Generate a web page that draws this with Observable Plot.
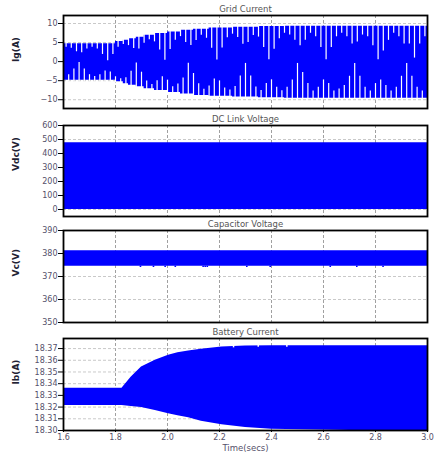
<!DOCTYPE html>
<html><head><meta charset="utf-8">
<script src="https://cdn.jsdelivr.net/npm/d3@7"></script>
<script src="https://cdn.jsdelivr.net/npm/@observablehq/plot@0.6"></script>
<style>
body{margin:0;background:#fff;}
#chart svg{display:block;}
</style></head><body><div id="chart"></div>
<script>
const BLUE = "#0000ff";
const xTicks = [1.6, 1.8, 2.0, 2.2, 2.4, 2.6, 2.8, 3.0];

// Panel titles and axis labels
const titles = ["Grid Current", "DC Link Voltage", "Capacitor Voltage", "Battery Current"];
const yLabels = ["Ig(A)", "Vdc(V)", "Vc(V)", "Ib(A)"];
const xLabel = "Time(secs)";

// Grid current envelope
const gridTime  = [1.60, 1.79, 1.80, 1.83, 1.85, 1.88, 1.91, 1.95, 2.00, 2.05, 2.10, 2.16, 2.25, 2.35, 2.45, 3.00];
const gridUpper = [4.7, 4.7, 5.3, 5.6, 6.0, 6.4, 6.9, 7.4, 7.8, 8.2, 8.5, 8.8, 9.0, 9.2, 9.3, 9.3];
const gridLower = [-4.9, -4.9, -5.3, -5.8, -6.2, -6.6, -7.1, -7.6, -8.1, -8.5, -8.9, -9.1, -9.3, -9.5, -9.6, -9.6];
const gridYTicks = [-10, -5, 0, 5, 10];
// white gaps (sampling pattern): times and reach toward centre (fraction of envelope)
const gapUpT = [1.61,1.63,1.65,1.67,1.69,1.71,1.73,1.75,1.77,1.79,
  1.81,1.83,1.85,1.87,1.89,1.91,1.93,1.95,1.97,1.99,
  2.01,2.03,2.05,2.07,2.09,2.11,2.13,2.15,2.17,2.19,
  2.21,2.23,2.25,2.27,2.29,2.31,2.33,2.35,2.37,2.39,
  2.41,2.43,2.45,2.47,2.49,2.51,2.53,2.55,2.57,2.59,
  2.61,2.63,2.65,2.67,2.69,2.71,2.73,2.75,2.77,2.79,
  2.81,2.83,2.85,2.87,2.89,2.91,2.93,2.95,2.97,2.99];
const gapUpReach = [0.2,0.25,0.45,0.5,0.3,0.2,0.3,0.6,0.95,0.6,
  0.3,0.2,0.3,0.45,0.5,0.3,0.2,0.3,0.6,0.95,
  0.6,0.3,0.2,0.4,0.5,0.35,0.2,0.3,0.6,0.95,
  0.6,0.3,0.2,0.3,0.5,0.45,0.25,0.3,0.6,0.95,
  0.65,0.35,0.2,0.25,0.4,0.55,0.4,0.2,0.3,0.6,
  0.95,0.6,0.3,0.2,0.3,0.5,0.45,0.25,0.3,0.55,
  0.95,0.7,0.4,0.2,0.3,0.5,0.5,0.9,0.5,0.3];
const gapLowT = [1.62,1.64,1.66,1.68,1.70,1.72,1.74,1.76,1.78,1.80,
  1.82,1.84,1.86,1.88,1.90,1.92,1.94,1.96,1.98,2.00,
  2.02,2.04,2.06,2.08,2.10,2.12,2.14,2.16,2.18,2.20,
  2.22,2.24,2.26,2.28,2.30,2.32,2.34,2.36,2.38,2.40,
  2.42,2.44,2.46,2.48,2.50,2.52,2.54,2.56,2.58,2.60,
  2.62,2.64,2.66,2.68,2.70,2.72,2.74,2.76,2.78,2.80,
  2.82,2.84,2.86,2.88,2.90,2.92,2.94,2.96,2.98];
const gapLowReach = [0.3,0.6,0.95,0.6,0.3,0.2,0.3,0.5,0.45,0.25,
  0.2,0.3,0.6,0.95,0.6,0.3,0.2,0.35,0.5,0.4,
  0.2,0.3,0.5,0.95,0.65,0.35,0.2,0.3,0.5,0.45,
  0.25,0.2,0.3,0.6,0.95,0.6,0.3,0.2,0.4,0.5,
  0.3,0.2,0.3,0.5,0.95,0.7,0.4,0.2,0.3,0.5,
  0.4,0.2,0.25,0.35,0.6,0.95,0.6,0.3,0.2,0.4,
  0.5,0.35,0.2,0.3,0.6,0.95,0.6,0.3,0.2];

// DC link voltage
const dcTime = [1.6, 3.0];
const dcUpper = [476, 476];
const dcLower = [0, 0];
const dcYTicks = [0, 100, 200, 300, 400, 500, 600];

// Capacitor voltage
const capTime = [1.6, 3.0];
const capUpper = [381.2, 381.2];
const capLower = [374.5, 374.5];
const capNotchT = [1.896, 1.946, 1.991, 2.03, 2.137, 2.145, 2.153, 2.305, 2.395, 2.626, 2.728, 2.829];
const capNotchLow = [373.9, 373.9, 373.9, 373.9, 373.9, 373.9, 373.9, 373.9, 373.9, 373.9, 373.9, 373.9];
const capYTicks = [350, 360, 370, 380, 390];

// Battery current
const batTime  = [1.60, 1.825, 1.86, 1.90, 1.953, 2.004, 2.04, 2.081, 2.13, 2.209, 2.30, 2.40, 3.00];
const batUpper = [18.3362, 18.3362, 18.3455, 18.3542, 18.3600, 18.3643, 18.3665, 18.3680, 18.3695, 18.3714, 18.3722, 18.3724, 18.3724];
const batLower = [18.3214, 18.3214, 18.3205, 18.3196, 18.3170, 18.3143, 18.3125, 18.3110, 18.3080, 18.3050, 18.3025, 18.3010, 18.2990];
const batYTicks = [18.30, 18.31, 18.32, 18.33, 18.34, 18.35, 18.36, 18.37];
const batDentT = [2.254, 2.349, 2.459];

const font = "DejaVu Sans, Verdana, sans-serif";
const TXT = "#55506a";

function panel(o) {
  const marks = [
    Plot.gridX(xTicks, {stroke: "#888", strokeOpacity: 1, strokeDasharray: "3,2", strokeWidth: 0.8}),
    Plot.gridY(o.yTicks, {stroke: "#bbb", strokeOpacity: 1, strokeDasharray: "3,2", strokeWidth: 0.8}),
    ...o.marks,
    Plot.frame({stroke: "black", strokeWidth: 1.8}),
    Plot.axisY(o.yTicks, {anchor: "left", tickSize: 5, tickPadding: 1, tickFormat: o.yFormat, fill: TXT, stroke: "black", fontSize: 8, label: null}),
    Plot.text([o.title], {frameAnchor: "top", lineAnchor: "middle", dy: -6, fontSize: 8.5, fill: "#555", fontFamily: font}),
    Plot.text([o.ylabel], {frameAnchor: "left", dx: -47, rotate: -90, fontSize: 9, fontWeight: "bold", fill: "#223", fontFamily: font})
  ];
  if (o.showX) {
    marks.push(Plot.axisX(xTicks, {anchor: "bottom", tickSize: 2, tickPadding: 2, tickFormat: d3.format(".1f"), fill: TXT, stroke: "black", fontSize: 8, label: null}));
    marks.push(Plot.text([xLabel], {frameAnchor: "bottom", lineAnchor: "middle", dy: 18, fontSize: 8.5, fill: TXT, fontFamily: font}));
  }
  return Plot.plot({
    width: 435, height: o.height,
    marginLeft: 63, marginRight: 8, marginTop: o.mt, marginBottom: o.mb,
    style: {overflow: "visible", background: "transparent", fontFamily: font, fontSize: "8px"},
    x: {domain: [1.6, 3.0], axis: null},
    y: {domain: o.yDomain, axis: null},
    marks
  });
}

// build tables
const gridRows = gridTime.map((t, i) => ({t, hi: gridUpper[i], lo: gridLower[i]}));
const upEnv = d3.scaleLinear(gridTime, gridUpper);
const loEnv = d3.scaleLinear(gridTime, gridLower);
const gapsUp = gapUpT.map((t, i) => ({t, y1: upEnv(t) + 0.3, y2: upEnv(t) * (1 - gapUpReach[i])}));
const gapsLow = gapLowT.map((t, i) => ({t, y1: loEnv(t) - 0.3, y2: loEnv(t) * (1 - gapLowReach[i])}));

const dcRows = dcTime.map((t, i) => ({t, hi: dcUpper[i], lo: dcLower[i]}));
const capRows = capTime.map((t, i) => ({t, hi: capUpper[i], lo: capLower[i]}));
const capNotches = capNotchT.map((t, i) => ({t, lo: capNotchLow[i]}));
const batRows = batTime.map((t, i) => ({t, hi: batUpper[i], lo: batLower[i]}));
const batUpEnv = d3.scaleLinear(batTime, batUpper);
const batDents = batDentT.map(t => ({t, y1: batUpEnv(t) + 0.0005, y2: batUpEnv(t) - 0.0012}));

const root = document.getElementById("chart");
root.append(panel({
  height: 113, mt: 15, mb: 5, yDomain: [-12.3, 12.1], yTicks: gridYTicks,
  title: titles[0], ylabel: yLabels[0],
  marks: [
    Plot.areaY(gridRows, {x: "t", y1: "lo", y2: "hi", fill: BLUE, curve: "step-after"}),
    Plot.ruleX(gapsUp, {x: "t", y1: "y1", y2: "y2", stroke: "white", strokeWidth: 1.2}),
    Plot.ruleX(gapsLow, {x: "t", y1: "y1", y2: "y2", stroke: "white", strokeWidth: 1.2})
  ]
}));
root.append(panel({
  height: 105, mt: 12, mb: 2, yDomain: [-50, 600], yTicks: dcYTicks,
  title: titles[1], ylabel: yLabels[1],
  marks: [Plot.areaY(dcRows, {x: "t", y1: "lo", y2: "hi", fill: BLUE})]
}));
root.append(panel({
  height: 109, mt: 12, mb: 5, yDomain: [350, 390], yTicks: capYTicks,
  title: titles[2], ylabel: yLabels[2],
  marks: [
    Plot.areaY(capRows, {x: "t", y1: "lo", y2: "hi", fill: BLUE}),
    Plot.ruleX(capNotches, {x: "t", y1: capLower[0], y2: "lo", stroke: BLUE, strokeWidth: 1.6})
  ]
}));
root.append(panel({
  height: 126, mt: 11, mb: 23, yDomain: [18.30, 18.3786], yTicks: batYTicks, yFormat: d3.format(".2f"),
  title: titles[3], ylabel: yLabels[3], showX: true,
  marks: [
    Plot.areaY(batRows, {x: "t", y1: "lo", y2: "hi", fill: BLUE, clip: true}),
    Plot.ruleX(batDents, {x: "t", y1: "y1", y2: "y2", stroke: "white", strokeWidth: 1.5})
  ]
}));
</script></body></html>
